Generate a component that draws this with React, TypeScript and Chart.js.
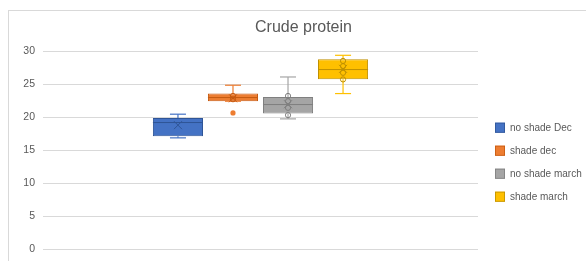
import React, { useEffect, useRef } from "react";
import { Chart, registerables } from "chart.js";

Chart.register(...registerables);

const categories = [""];
const seriesNames = ["no shade Dec", "shade dec", "no shade march", "shade march"];
const whiskerLow = [16.86, 22.4, 19.73, 23.56];
const q1 = [17.11, 22.4, 20.54, 25.72];
const median = [19.18, 22.96, 21.9, 27.19];
const q3 = [19.88, 23.56, 23.05, 28.75];
const whiskerHigh = [20.44, 24.82, 26.07, 29.35];
const means = [18.78, 22.85, 21.95, 27.3];
const innerPoints: number[][] = [[], [23.2, 22.7], [23.2, 22.4, 21.4, 20.3], [28.5, 27.7, 26.7, 25.7]];
const outliers: number[][] = [[], [20.63], [], []];
const yTicks = { min: 0, max: 30, step: 5 };
const titleText = "Crude protein";

const seriesColors = ["#4472C4", "#ED7D31", "#A5A5A5", "#FFC000"];
const borderColors = ["#2F5597", "#C55A11", "#7F7F7F", "#BF9000"];
const textColor = "#595959";
const fontFamily = '"Liberation Sans", Arial, sans-serif';

const boxPlugin = {
  id: "boxExtras",
  afterDatasetsDraw(chart: any) {
    const ctx = chart.ctx;
    const ys = chart.scales.y;
    const py = (v: number) => ys.getPixelForValue(v);
    seriesNames.forEach((_, i) => {
      const bar = chart.getDatasetMeta(i).data[0];
      if (!bar) return;
      const x = bar.x;
      const w = bar.width;
      const cap = w * 0.32;
      ctx.save();
      const line = (x1: number, y1: number, x2: number, y2: number) => {
        ctx.beginPath();
        ctx.moveTo(x1, y1);
        ctx.lineTo(x2, y2);
        ctx.stroke();
      };
      ctx.lineWidth = 1.2;
      ctx.strokeStyle = seriesColors[i];
      // whiskers
      line(x, py(q3[i]), x, py(whiskerHigh[i]));
      line(x - cap / 2, py(whiskerHigh[i]), x + cap / 2, py(whiskerHigh[i]));
      line(x, py(q1[i]), x, py(whiskerLow[i]));
      line(x - cap / 2, py(whiskerLow[i]), x + cap / 2, py(whiskerLow[i]));
      // median
      ctx.strokeStyle = borderColors[i];
      ctx.lineWidth = 1;
      line(x - w / 2, py(median[i]), x + w / 2, py(median[i]));
      // inner points
      innerPoints[i].forEach((v) => {
        ctx.beginPath();
        ctx.arc(x, py(v), 2.6, 0, Math.PI * 2);
        ctx.stroke();
      });
      // mean X
      const my = py(means[i]);
      const s = 4;
      line(x - s, my - s, x + s, my + s);
      line(x - s, my + s, x + s, my - s);
      // outliers
      ctx.fillStyle = seriesColors[i];
      outliers[i].forEach((v) => {
        ctx.beginPath();
        ctx.arc(x, py(v), 2.6, 0, Math.PI * 2);
        ctx.fill();
      });
      ctx.restore();
    });
  },
  afterDraw(chart: any) {
    const ctx = chart.ctx;
    ctx.save();
    // title
    ctx.fillStyle = textColor;
    ctx.font = `16px ${fontFamily}`;
    ctx.textAlign = "center";
    ctx.textBaseline = "middle";
    ctx.fillText(titleText, 294.5, 17);
    // legend
    ctx.font = `10px ${fontFamily}`;
    ctx.textAlign = "left";
    const lx = chart.chartArea.right + 17;
    const ly0 = 116.7;
    const gap = 23;
    seriesNames.forEach((name, i) => {
      const cy = ly0 + i * gap;
      ctx.fillStyle = seriesColors[i];
      ctx.fillRect(lx, cy - 5, 10, 10);
      ctx.strokeStyle = borderColors[i];
      ctx.lineWidth = 0.8;
      ctx.strokeRect(lx + 0.4, cy - 4.6, 9.2, 9.2);
      ctx.fillStyle = textColor;
      ctx.fillText(name, lx + 15, cy + 0.5);
    });
    ctx.restore();
  },
};

export default function App() {
  const canvasRef = useRef<HTMLCanvasElement | null>(null);

  useEffect(() => {
    if (!canvasRef.current) return;
    const chart = new Chart(canvasRef.current, {
      type: "bar",
      data: {
        labels: categories,
        datasets: seriesNames.map((name, i) => ({
          label: name,
          data: [[q1[i], q3[i]]] as any,
          backgroundColor: seriesColors[i],
          borderColor: borderColors[i],
          borderWidth: 1,
          borderSkipped: false,
          categoryPercentage: 0.506,
          barPercentage: 0.91,
        })),
      },
      options: {
        animation: false,
        responsive: true,
        maintainAspectRatio: false,
        layout: { padding: { left: 0, top: 40, right: 151, bottom: 31.7 } },
        plugins: {
          legend: { display: false },
          title: { display: false },
          tooltip: { enabled: false },
        },
        scales: {
          x: { display: false },
          y: {
            min: yTicks.min,
            max: yTicks.max,
            ticks: {
              stepSize: yTicks.step,
              color: textColor,
              font: { family: fontFamily, size: 10.5 },
              padding: 8,
            },
            grid: { color: "#d9d9d9", lineWidth: 1, drawTicks: false },
            border: { display: false },
            afterFit: (scale: any) => {
              scale.width = 34;
            },
          },
        },
      },
      plugins: [boxPlugin],
    });
    return () => chart.destroy();
  }, []);

  return (
    <div
      style={{
        position: "absolute",
        left: 8,
        top: 10,
        width: 640,
        height: 290,
        border: "1px solid #d9d9d9",
        boxSizing: "border-box",
        background: "#fff",
      }}
    >
      <div style={{ position: "absolute", left: 0, top: 0, width: 620, height: 270 }}>
        <canvas ref={canvasRef} />
      </div>
    </div>
  );
}
